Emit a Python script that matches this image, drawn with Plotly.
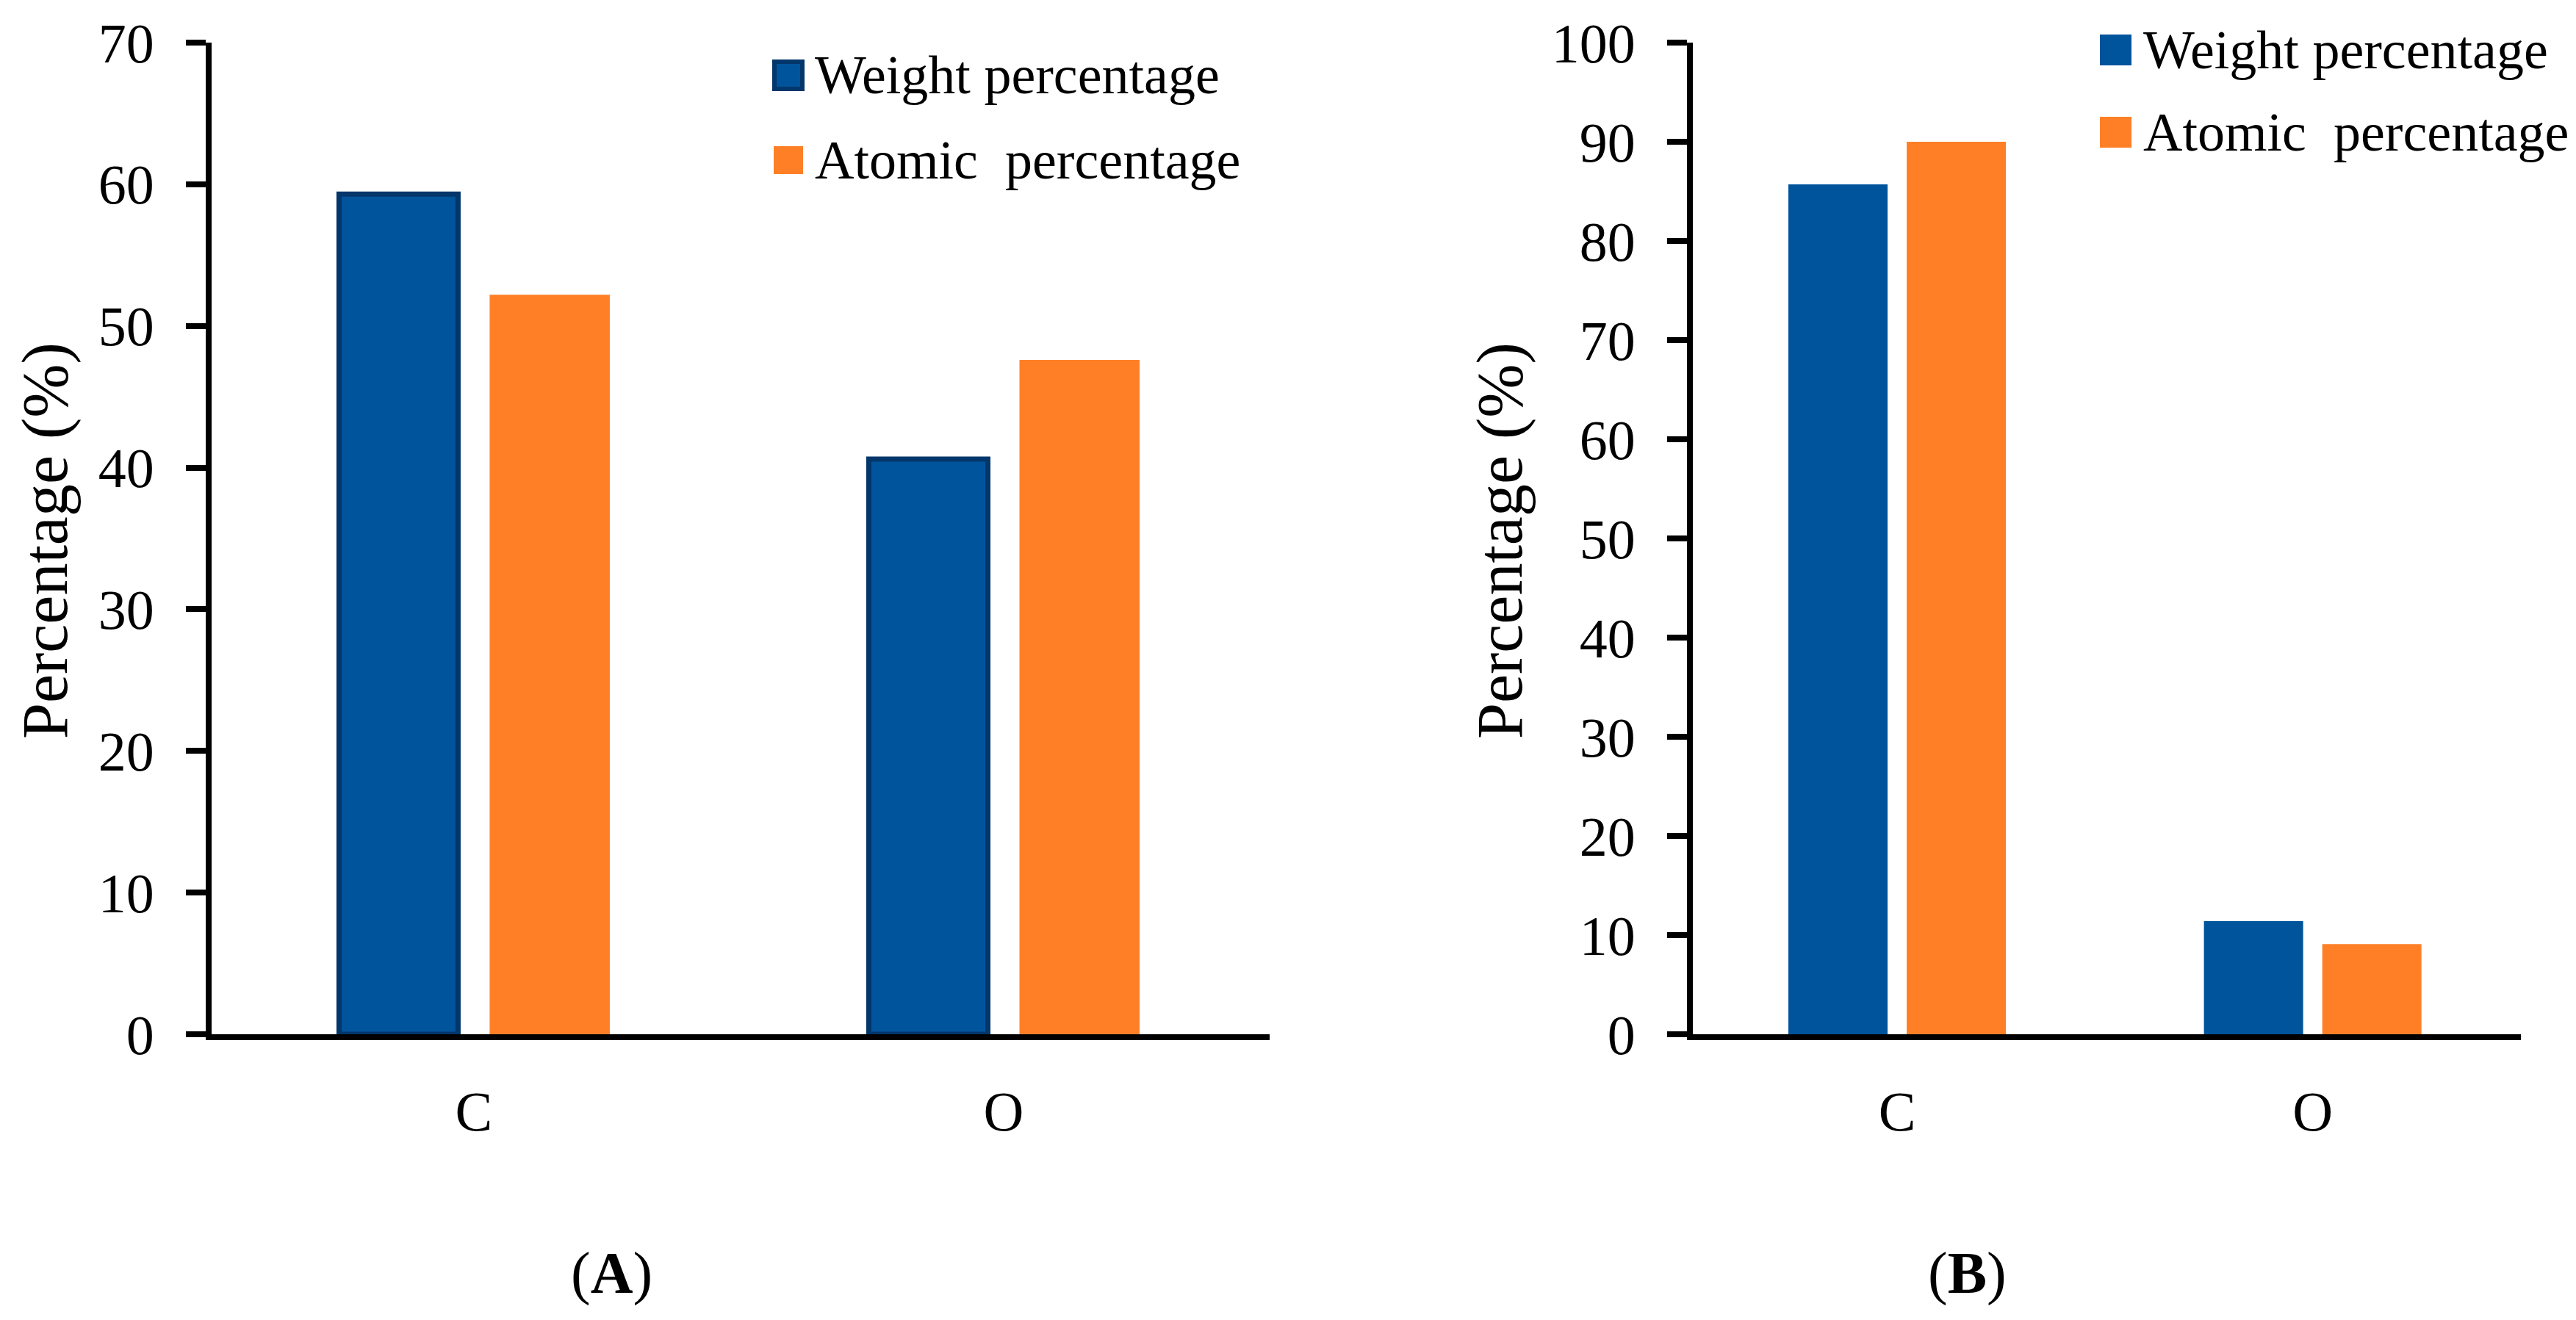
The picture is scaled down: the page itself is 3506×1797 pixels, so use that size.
import plotly.graph_objects as go

W, H = 3506, 1797

categories = ["C", "O"]
weight_A = [59.3, 40.6]
atomic_A = [52.2, 47.6]
weight_B = [85.7, 11.4]
atomic_B = [90.0, 9.1]
yticks_A = [0, 10, 20, 30, 40, 50, 60, 70]
yticks_B = [0, 10, 20, 30, 40, 50, 60, 70, 80, 90, 100]
series_names = ["Weight percentage", "Atomic\u00a0 percentage"]
axis_title = "Percentage (%)"
panel_labels = ["(<b>A</b>)", "(<b>B</b>)"]

BLUE = "#00549C"
BLUE_EDGE = "#03366A"
ORANGE = "#FF7F27"
FONT = "Liberation Serif"


def px(x):
    return x / W


def py(y):
    return 1 - y / H


fig = go.Figure()

# Panel A
fig.add_trace(go.Bar(x=categories, y=weight_A, name=series_names[0], xaxis="x", yaxis="y",
                     marker=dict(color=BLUE, line=dict(color=BLUE_EDGE, width=7)),
                     width=0.2247, offset=-0.2545, showlegend=False))
fig.add_trace(go.Bar(x=categories, y=atomic_A, name=series_names[1], xaxis="x", yaxis="y",
                     marker=dict(color=ORANGE, line=dict(width=0)),
                     width=0.2268, offset=0.0298, showlegend=False))
# Panel B
fig.add_trace(go.Bar(x=categories, y=weight_B, name=series_names[0], xaxis="x2", yaxis="y2",
                     marker=dict(color=BLUE, line=dict(width=0)),
                     width=0.2387, offset=-0.2617, showlegend=False))
fig.add_trace(go.Bar(x=categories, y=atomic_B, name=series_names[1], xaxis="x2", yaxis="y2",
                     marker=dict(color=ORANGE, line=dict(width=0)),
                     width=0.2387, offset=0.023, showlegend=False))

common_x = dict(showline=True, linewidth=8, linecolor="black", ticks="", showgrid=False,
                zeroline=False, tickfont=dict(family=FONT, size=76, color="black"),
                ticklabelstandoff=32, fixedrange=True, automargin=False)
common_y = dict(showline=True, linewidth=8, linecolor="black", ticks="outside", ticklen=27,
                tickwidth=8, tickcolor="black", showgrid=False, zeroline=False,
                tickfont=dict(family=FONT, size=76, color="black"), ticklabelstandoff=28,
                fixedrange=True, automargin=False)

fig.update_layout(
    width=W, height=H, autosize=False,
    margin=dict(l=0, r=0, t=0, b=0, pad=0, autoexpand=False),
    paper_bgcolor="white", plot_bgcolor="white",
    barmode="group",
    font=dict(family=FONT, color="black"),
    xaxis=dict(domain=[px(288), px(1728)], range=[-0.495, 1.502], anchor="y", **common_x),
    yaxis=dict(domain=[py(1408), py(58)], range=[0, 70], tickvals=yticks_A, anchor="x", **common_y),
    xaxis2=dict(domain=[px(2304), px(3431)], range=[-0.4916, 1.501], anchor="y2", **common_x),
    yaxis2=dict(domain=[py(1408), py(58)], range=[0, 100], tickvals=yticks_B, anchor="x2", **common_y),
)

annotations = []
shapes = []

# axis titles
for xc in (61, 2041):
    annotations.append(dict(text=axis_title, x=px(xc), y=py(736), xref="paper", yref="paper",
                            textangle=-90, showarrow=False, xanchor="center", yanchor="middle",
                            font=dict(family=FONT, size=88, color="black")))

# panel labels
for xc, lab in zip((832, 2677), panel_labels):
    annotations.append(dict(text=lab, x=px(xc), y=py(1733), xref="paper", yref="paper",
                            showarrow=False, xanchor="center", yanchor="middle",
                            font=dict(family=FONT, size=80, color="black")))

# legends (manual, to match large square keys)
legend_specs = [
    # (x0, y0, x1, y1, fill, edge, edge_w, text_x, text_y, name)
    (1054, 84, 1092, 121, BLUE, BLUE_EDGE, 6, 1107, 102, series_names[0]),
    (1053, 199, 1093, 237, ORANGE, ORANGE, 0, 1107, 218, series_names[1]),
    (2858, 47, 2901, 89, BLUE, BLUE, 0, 2915, 68, series_names[0]),
    (2858, 159, 2901, 201, ORANGE, ORANGE, 0, 2915, 180, series_names[1]),
]
for x0, y0, x1, y1, fill, edge, ew, tx, ty, name in legend_specs:
    shapes.append(dict(type="rect", xref="paper", yref="paper", x0=px(x0), x1=px(x1),
                       y0=py(y1), y1=py(y0), fillcolor=fill,
                       line=dict(color=edge, width=ew)))
    annotations.append(dict(text=name, x=px(tx), y=py(ty), xref="paper", yref="paper",
                            showarrow=False, xanchor="left", yanchor="middle",
                            font=dict(family=FONT, size=74, color="black")))

fig.update_layout(annotations=annotations, shapes=shapes)

fig.write_html("out.html", config={"displayModeBar": False},
               post_script="document.body.style.margin='0';")
